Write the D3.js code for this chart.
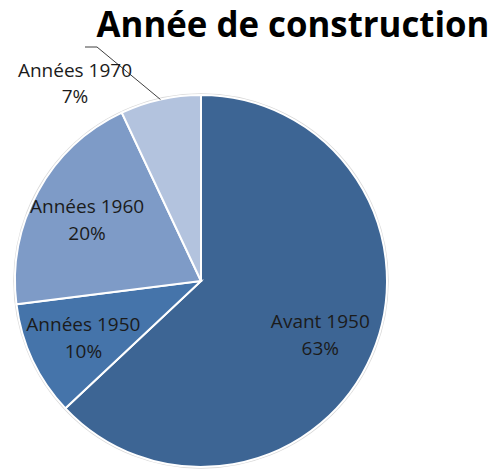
<!DOCTYPE html>
<html>
<head>
<meta charset="utf-8">
<script src="https://cdn.jsdelivr.net/npm/d3@7"></script>
<style>
body { margin: 0; background: #fff; }
svg { display: block; }
</style>
</head>
<body>
<svg id="chart"></svg>
<script>
var width = 496;
var height = 474;

// data
var categories = ['Avant 1950', 'Années 1950', 'Années 1960', 'Années 1970'];
var values = [63, 10, 20, 7];
var colors = ['#3d6594', '#4574aa', '#7e9bc7', '#b3c3de'];

var cx = 201, cy = 281, radius = 186;

var svg = d3.select('#chart')
	.attr('width', width)
	.attr('height', height);

// title
svg.append('text')
	.attr('x', 293)
	.attr('y', 37)
	.attr('text-anchor', 'middle')
	.style('font-family', 'Open Sans, sans-serif')
	.style('font-weight', 'bold')
	.style('font-size', '35px')
	.attr('textLength', 393)
	.attr('lengthAdjust', 'spacingAndGlyphs')
	.attr('fill', '#000')
	.text('Année de construction');

var pie = d3.pie().sort(null).value(function(d) { return d; });
var arcs = pie(values);

var arc = d3.arc().innerRadius(0).outerRadius(radius);
var labelArc = d3.arc().innerRadius(130).outerRadius(130);

var g = svg.append('g')
	.attr('transform', 'translate(' + cx + ',' + cy + ')');

// faint rim
g.append('circle')
	.attr('r', radius + 1)
	.attr('fill', 'none')
	.attr('stroke', '#d9d9d9')
	.attr('stroke-width', 1.5);

g.selectAll('path.slice')
	.data(arcs)
	.enter()
	.append('path')
	.attr('class', 'slice')
	.attr('d', arc)
	.attr('fill', function(d, i) { return colors[i]; })
	.attr('stroke', '#fff')
	.attr('stroke-width', 2);

var fmt = function(d) { return Math.round(d.value) + '%'; };

// inside labels (all but the last slice)
var inside = g.selectAll('text.lbl')
	.data(arcs.filter(function(d, i) { return i < arcs.length - 1; }))
	.enter()
	.append('text')
	.attr('class', 'lbl')
	.attr('text-anchor', 'middle')
	.style('font-family', 'Open Sans, sans-serif')
	.style('font-size', '19px')
	.attr('fill', '#1b1b1b')
	.attr('transform', function(d) {
		var c = labelArc.centroid(d);
		return 'translate(' + c[0] + ',' + c[1] + ')';
	});
inside.append('tspan')
	.attr('x', 0)
	.attr('y', -5)
	.text(function(d) { return categories[d.index]; });
inside.append('tspan')
	.attr('x', 0)
	.attr('y', 22)
	.text(fmt);

// outside label with leader line for the small slice
var last = arcs[arcs.length - 1];
var mid = (last.startAngle + last.endAngle) / 2;
var edge = [Math.sin(mid) * radius, -Math.cos(mid) * radius];
var elbow = [-104, -234];
var lblPos = [-126, -204];

g.append('polyline')
	.attr('points', [edge, elbow, [elbow[0] - 12, elbow[1]]].map(function(p) { return p.join(','); }).join(' '))
	.attr('fill', 'none')
	.attr('stroke', '#404040')
	.attr('stroke-width', 1);

var outside = g.append('text')
	.attr('text-anchor', 'middle')
	.style('font-family', 'Open Sans, sans-serif')
	.style('font-size', '19px')
	.attr('fill', '#1b1b1b')
	.attr('transform', 'translate(' + lblPos[0] + ',' + lblPos[1] + ')');
outside.append('tspan')
	.attr('x', 0)
	.attr('y', 0)
	.text(categories[last.index]);
outside.append('tspan')
	.attr('x', 0)
	.attr('y', 26)
	.text(fmt(last));
</script>
</body>
</html>
